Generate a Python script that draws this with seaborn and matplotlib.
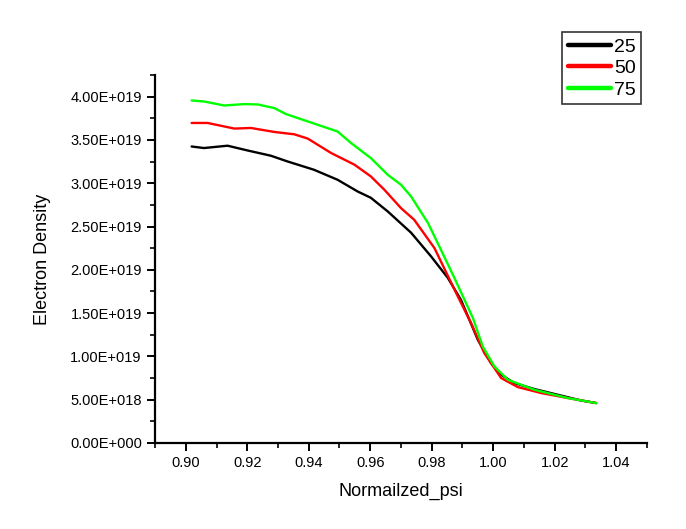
import numpy as np
import pandas as pd
import matplotlib
matplotlib.use("Agg")
import matplotlib.pyplot as plt
import seaborn as sns
from matplotlib.ticker import FuncFormatter, MultipleLocator

# ---- data (density in units of 1e19) ----
x_25 = [0.9019, 0.9059, 0.9136, 0.9201, 0.9277, 0.9331, 0.9417, 0.9494, 0.9559, 0.9602,
        0.9657, 0.9733, 0.9798, 0.9852, 0.9895, 0.9950, 0.9993, 1.0026, 1.0069, 1.0134,
        1.0210, 1.0286, 1.0335]
y_25 = [3.425, 3.407, 3.434, 3.379, 3.318, 3.252, 3.156, 3.040, 2.905, 2.832,
        2.674, 2.428, 2.154, 1.908, 1.653, 1.191, 0.921, 0.786, 0.690, 0.621,
        0.555, 0.489, 0.459]

x_50 = [0.9019, 0.9071, 0.9158, 0.9212, 0.9288, 0.9353, 0.9397, 0.9473, 0.9549, 0.9602,
        0.9646, 0.9700, 0.9743, 0.9809, 0.9885, 0.9928, 0.9971, 1.0026, 1.0080, 1.0156,
        1.0243, 1.0335]
y_50 = [3.697, 3.697, 3.632, 3.639, 3.593, 3.566, 3.516, 3.349, 3.214, 3.079,
        2.925, 2.713, 2.578, 2.250, 1.691, 1.384, 1.037, 0.748, 0.644, 0.575,
        0.517, 0.459]

x_75 = [0.9019, 0.9060, 0.9125, 0.9190, 0.9234, 0.9288, 0.9326, 0.9429, 0.9494, 0.9538,
        0.9602, 0.9657, 0.9700, 0.9733, 0.9788, 0.9830, 0.9874, 0.9934, 0.9966, 1.0004,
        1.0048, 1.0134, 1.0243, 1.0335]
y_75 = [3.957, 3.945, 3.899, 3.915, 3.911, 3.869, 3.800, 3.676, 3.598, 3.464,
        3.291, 3.098, 2.983, 2.847, 2.540, 2.231, 1.904, 1.442, 1.113, 0.882,
        0.728, 0.613, 0.517, 0.459]

labels = ["25", "50", "75"]
colors = ["#000000", "#ff0000", "#00ff00"]

frames = []
for lab, xs, ys in zip(labels, [x_25, x_50, x_75], [y_25, y_50, y_75]):
    frames.append(pd.DataFrame({"psi": xs, "density": np.array(ys) * 1e19, "case": lab}))
df = pd.concat(frames, ignore_index=True)

sns.set_style("ticks")
plt.rcParams["font.family"] = ["Liberation Sans", "DejaVu Sans"]
plt.rcParams["text.color"] = "black"
plt.rcParams["axes.labelcolor"] = "black"

fig = plt.figure(figsize=(6.86, 5.29), dpi=100)
ax = fig.add_axes([0.226, 0.163, 0.717, 0.695])

sns.lineplot(data=df, x="psi", y="density", hue="case", palette=colors,
             sort=False, estimator=None, linewidth=1.7, ax=ax)

ax.set_xlim(0.89, 1.05)
ax.set_ylim(0, 4.25e19)
ax.xaxis.set_major_locator(MultipleLocator(0.02))
ax.xaxis.set_minor_locator(MultipleLocator(0.01))
ax.yaxis.set_major_locator(MultipleLocator(0.5e19))
ax.yaxis.set_minor_locator(MultipleLocator(0.25e19))


def sci_fmt(v, pos):
    if v == 0:
        return "0.00E+000"
    e = int(np.floor(np.log10(abs(v)) + 1e-9))
    m = v / 10 ** e
    return f"{m:.2f}E+{e:03d}"


ax.yaxis.set_major_formatter(FuncFormatter(sci_fmt))
ax.xaxis.set_major_formatter(FuncFormatter(lambda v, p: f"{v:.2f}"))

for s in ["top", "right"]:
    ax.spines[s].set_visible(False)
for s in ["left", "bottom"]:
    ax.spines[s].set_linewidth(1.6)
    ax.spines[s].set_color("black")
ax.tick_params(axis="both", which="major", length=6, width=1.4, labelsize=10.5,
               colors="black", labelcolor="black")
ax.tick_params(axis="both", which="minor", length=3.5, width=1.2, colors="black")

ax.set_xlabel("Normailzed_psi", fontsize=13, labelpad=9)
ax.set_ylabel("Electron Density", fontsize=13, labelpad=14)

leg = ax.legend(loc="upper left", bbox_to_anchor=(0.828, 1.117), frameon=True, fancybox=False,
                fontsize=14, handlelength=2.2, handletextpad=0.15, borderpad=0.3,
                labelspacing=0.2, borderaxespad=0)
leg.get_frame().set_edgecolor("black")
leg.get_frame().set_linewidth(1.2)
for line in leg.get_lines():
    line.set_linewidth(3.2)

fig.savefig("out.png", dpi=100)
